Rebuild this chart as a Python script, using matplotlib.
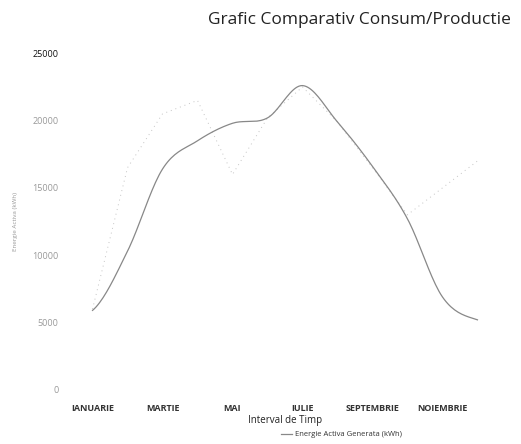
import matplotlib
matplotlib.use('Agg')
import matplotlib.pyplot as plt
import numpy as np

# date lunare
luni = ['IANUARIE', 'FEBRUARIE', 'MARTIE', 'APRILIE', 'MAI', 'IUNIE', 'IULIE',
        'AUGUST', 'SEPTEMBRIE', 'OCTOMBRIE', 'NOIEMBRIE', 'DECEMBRIE']
generata = [5900, 10300, 16400, 18500, 19800, 20200, 22600, 19900, 16600, 12700, 6900, 5200]
consum = [6000, 16500, 20500, 21500, 16000, 20200, 22500, 19900, 16500, 13000, 15000, 17000]
y_ticks = [0, 5000, 10000, 15000, 20000, 25000]

plt.rcParams['font.family'] = ['Open Sans', 'DejaVu Sans']


def neted(y, n=20):
    # curba Catmull-Rom prin punctele lunare
    y = np.asarray(y, dtype=float)
    p = np.concatenate([[y[0]], y, [y[-1]]])
    xs, ys = [], []
    for i in range(len(y) - 1):
        p0, p1, p2, p3 = p[i], p[i + 1], p[i + 2], p[i + 3]
        t = np.linspace(0, 1, n, endpoint=False)
        v = 0.5 * ((2 * p1) + (-p0 + p2) * t + (2 * p0 - 5 * p1 + 4 * p2 - p3) * t ** 2
                   + (-p0 + 3 * p1 - 3 * p2 + p3) * t ** 3)
        xs.append(i + t)
        ys.append(v)
    xs.append([len(y) - 1])
    ys.append([y[-1]])
    return np.concatenate(xs), np.concatenate(ys)


fig = plt.figure(figsize=(5.21, 4.44), dpi=100)
ax = fig.add_axes([0.144, 0.122, 0.806, 0.758])

x = np.arange(len(luni))
ax.plot(x, consum, color='#c4c4c4', lw=0.7, ls=(0, (1, 4)))
xs, ys = neted(generata)
ax.plot(xs, ys, color='#888888', lw=0.9, label='Energie Activa Generata (kWh)')

ax.set_xlim(-0.5, 11.5)
ax.set_ylim(0, 25000)
ax.set_yticks(y_ticks)
ax.set_yticklabels([str(v) for v in y_ticks], fontsize=6.5, color='#999999')
ax.get_yticklabels()[-1].set_color('#111111')
ax.set_xticks(x[::2])
ax.set_xticklabels(luni[::2], fontsize=6.5, color='#333333', fontweight='bold')
ax.tick_params(length=0, pad=12)
ax.tick_params(axis='x', pad=10)
for s in ax.spines.values():
    s.set_visible(False)

ax.set_ylabel('Energie Activa (kWh)', fontsize=4.5, color='#999999', labelpad=10)
ax.set_xlabel('Interval de Timp', fontsize=7, color='#222222', labelpad=2)
ax.legend(loc='upper left', bbox_to_anchor=(0.49, -0.122), frameon=False,
          fontsize=5.5, handlelength=1.5, handletextpad=0.3, labelcolor='#333333',
          borderaxespad=0, borderpad=0)

fig.text(0.69, 0.955, 'Grafic Comparativ Consum/Productie', ha='center', va='center',
         fontsize=12.5, color='#222222')

plt.savefig('out.png', dpi=100)
